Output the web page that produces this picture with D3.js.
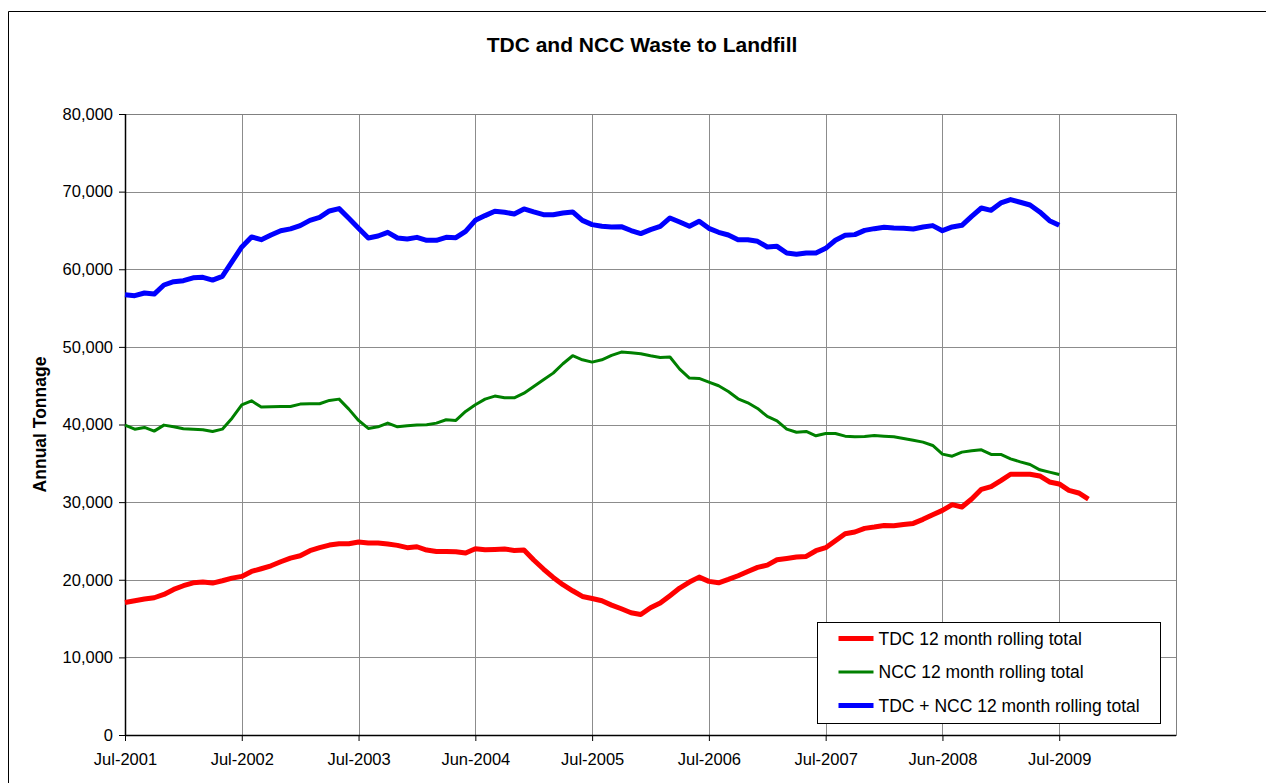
<!DOCTYPE html>
<html>
<head>
<meta charset="utf-8">
<script src="https://cdn.jsdelivr.net/npm/d3@7"></script>
<style>
    body { margin: 0; background: #fff; }
    svg { display: block; font-family: "Liberation Sans", Arial, sans-serif; }
</style>
</head>
<body>
<div id="chart"></div>
<script>
// x axis: one category per month, labelled every 12th one
const tickLabels = ["Jul-2001", "Jul-2002", "Jul-2003", "Jun-2004", "Jul-2005",
                    "Jul-2006", "Jul-2007", "Jun-2008", "Jul-2009"];
const nCategories = 109;
const yTicks = [0, 10000, 20000, 30000, 40000, 50000, 60000, 70000, 80000];

// TDC 12 month rolling total
const tdc = [
    17080, 17290, 17510, 17680, 18110, 18750, 19230, 19610, 19700, 19570, 19870, 20210, 20430, 21070, 21420, 21800, 22320, 22790,
    23090, 23740, 24130, 24470, 24640, 24640, 24860, 24730, 24730, 24600, 24430, 24130, 24250, 23820, 23650, 23650, 23610,
    23440, 24000, 23870, 23910, 23950, 23780, 23820, 22540, 21380, 20300, 19360, 18580, 17850, 17590, 17290, 16730, 16260, 15750,
    15530, 16390, 16990, 17940, 18930, 19700, 20340, 19790, 19610, 20040, 20520, 21070, 21590, 21890, 22580, 22750, 22920, 23010,
    23740, 24130, 25030, 25930, 26150, 26620, 26790, 27000, 26960, 27130, 27260, 27780, 28380, 28940, 29670, 29370, 30400,
    31650, 32000, 32770, 33590, 33590, 33590, 33370, 32600, 32340, 31520, 31180, 30400
];

// NCC 12 month rolling total
const ncc = [
    39920, 39400, 39620, 39150, 39920, 39700, 39450, 39400, 39320, 39100, 39400, 40820, 42540, 43050, 42240, 42280, 42320, 42320,
    42630, 42670, 42670, 43100, 43270, 41980, 40520, 39490, 39700, 40180, 39700, 39830, 39920, 39960, 40180, 40610, 40520,
    41680, 42540, 43270, 43660, 43440, 43440, 44040, 44900, 45760, 46620, 47830, 48860, 48340, 48040, 48340, 48900, 49330, 49250,
    49120, 48860, 48640, 48690, 47140, 45980, 45930, 45460, 44990, 44260, 43310, 42800, 42070, 41040, 40480, 39400, 39000, 39100,
    38540, 38840, 38840, 38500, 38410, 38460, 38590, 38500, 38410, 38200, 37980, 37730, 37300, 36180, 35920, 36440, 36610,
    36740, 36140, 36140, 35580, 35190, 34850, 34160, 33860, 33560
];

// TDC + NCC 12 month rolling total
const total = [
    56720, 56600, 56940, 56800, 57970, 58400, 58530, 58900, 58960, 58600, 59090, 60980, 62870, 64160, 63810, 64410, 64970, 65200,
    65620, 66300, 66690, 67510, 67810, 66560, 65270, 64030, 64280, 64760, 64030, 63900, 64110, 63730, 63730, 64110, 64070,
    64890, 66300, 66910, 67470, 67340, 67120, 67770, 67380, 67030, 67030, 67250, 67380, 66300, 65750, 65530, 65450, 65490, 64990,
    64590, 65100, 65530, 66610, 66090, 65530, 66180, 65270, 64760, 64410, 63810, 63810, 63600, 62870, 62950, 62090, 61920, 62090,
    62090, 62690, 63730, 64370, 64460, 65010, 65230, 65400, 65320, 65270, 65190, 65450, 65620, 64970, 65450, 65660, 66820,
    67890, 67590, 68540, 68970, 68630, 68280, 67380, 66260, 65660
];

const series = [
    { name: "TDC 12 month rolling total", values: tdc, color: "#ff0000", width: 5 },
    { name: "NCC 12 month rolling total", values: ncc, color: "#008000", width: 3 },
    { name: "TDC + NCC 12 month rolling total", values: total, color: "#0000ff", width: 5 }
];

const W = 1266, H = 783;
const margin = { top: 114, right: 90, bottom: 48, left: 125 };
const pw = W - margin.left - margin.right;
const ph = H - margin.top - margin.bottom;

const svg = d3.select("#chart").append("svg")
    .attr("width", W)
    .attr("height", H);

// chart area frame (only top and left edges fall inside the picture)
svg.append("path")
    .attr("d", `M8.5,${H}V11.5H${W}`)
    .attr("fill", "none")
    .attr("stroke", "#000");

svg.append("text")
    .attr("x", 642)
    .attr("y", 52)
    .attr("text-anchor", "middle")
    .style("font-size", "21px")
    .style("font-weight", "bold")
    .text("TDC and NCC Waste to Landfill");

const g = svg.append("g")
    .attr("transform", `translate(${margin.left},${margin.top})`);

const x = d3.scalePoint()
    .domain(d3.range(nCategories))
    .range([0, pw]);

const y = d3.scaleLinear()
    .domain([0, 80000])
    .range([ph, 0]);

const xTickIdx = tickLabels.map((d, i) => i * 12);

// gridlines
g.append("g").selectAll("line.h")
    .data(yTicks)
    .join("line")
    .attr("x1", 0).attr("x2", pw)
    .attr("y1", d => Math.round(y(d)) + 0.5)
    .attr("y2", d => Math.round(y(d)) + 0.5)
    .attr("stroke", "#8c8c8c");

g.append("g").selectAll("line.v")
    .data(xTickIdx.concat([nCategories - 1]))
    .join("line")
    .attr("x1", d => Math.round(x(d)) + 0.5)
    .attr("x2", d => Math.round(x(d)) + 0.5)
    .attr("y1", 0).attr("y2", ph)
    .attr("stroke", "#8c8c8c");

// plot area border
g.append("rect")
    .attr("x", 0.5).attr("y", 0.5)
    .attr("width", pw).attr("height", ph)
    .attr("fill", "none")
    .attr("stroke", "#808080");

// axes
const yAxis = g.append("g")
    .call(d3.axisLeft(y).tickValues(yTicks).tickSize(6).tickPadding(6)
        .tickFormat(d3.format(",")));

const xAxis = g.append("g")
    .attr("transform", `translate(0,${ph})`)
    .call(d3.axisBottom(x).tickValues(xTickIdx).tickSize(6).tickPadding(12)
        .tickFormat((d, i) => tickLabels[i]));

[yAxis, xAxis].forEach(a => {
    a.select(".domain").attr("stroke", "#000").attr("stroke-width", 1.5);
    a.selectAll(".tick line").attr("stroke", "#000");
    a.selectAll("text")
        .attr("fill", "#000")
        .style("font-size", "16.5px")
        .style("font-family", "'Liberation Sans', Arial, sans-serif");
});
xAxis.select(".domain").attr("d", `M0,0.5H${pw}`);
yAxis.select(".domain").attr("d", `M0.5,0V${ph}`);

svg.append("text")
    .attr("transform", `translate(46,${margin.top + ph / 2}) rotate(-90)`)
    .attr("text-anchor", "middle")
    .style("font-size", "17.5px")
    .style("font-weight", "bold")
    .text("Annual Tonnage");

// series lines
const line = d3.line()
    .x((d, i) => x(i))
    .y(d => y(d));

g.append("g").selectAll("path.series")
    .data(series)
    .join("path")
    .attr("class", "series")
    .attr("d", d => line(d.values))
    .attr("fill", "none")
    .attr("stroke", d => d.color)
    .attr("stroke-width", d => d.width)
    .attr("stroke-linejoin", "round");

// legend
const legend = svg.append("g")
    .attr("transform", "translate(817.5,622.5)");

legend.append("rect")
    .attr("width", 343)
    .attr("height", 101)
    .attr("fill", "#fff")
    .attr("stroke", "#000");

const item = legend.selectAll("g.item")
    .data(series)
    .join("g")
    .attr("class", "item")
    .attr("transform", (d, i) => `translate(0,${16 + i * 33.5})`);

item.append("line")
    .attr("x1", 21).attr("x2", 56)
    .attr("stroke", d => d.color)
    .attr("stroke-width", d => d.width);

item.append("text")
    .attr("x", 61)
    .attr("y", 6)
    .style("font-size", "17.5px")
    .text(d => d.name);
</script>
</body>
</html>
